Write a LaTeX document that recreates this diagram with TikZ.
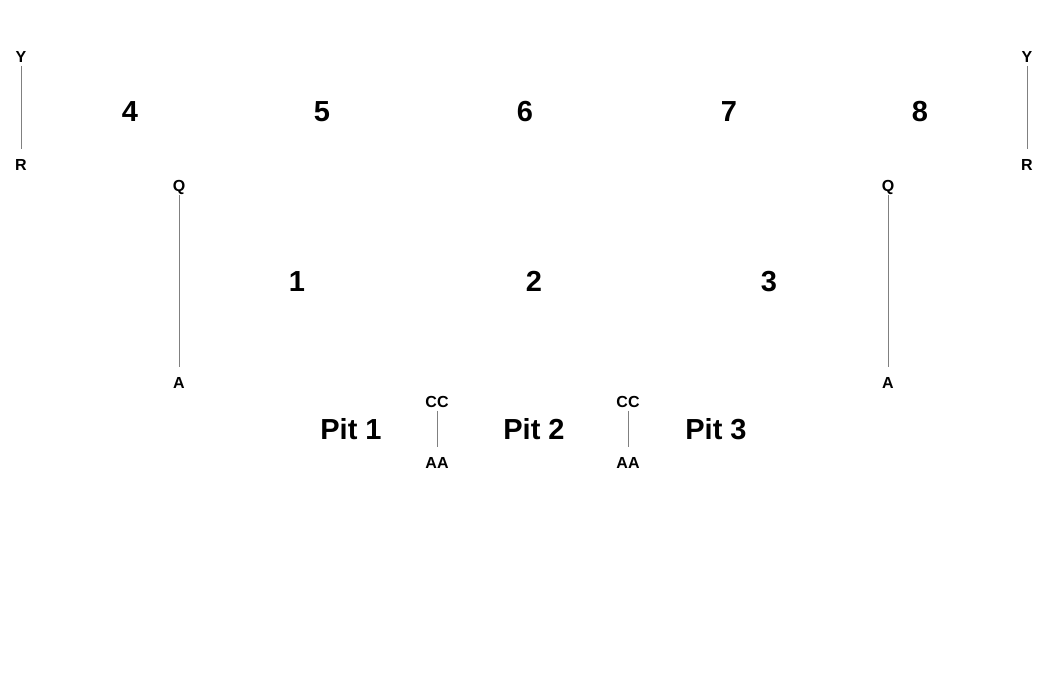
\documentclass[tikz,border=0pt]{standalone}
\usepackage{fontspec}
\setmainfont{Liberation Sans}
\begin{document}
\begin{tikzpicture}[x=1pt,y=-1pt,
  big/.style={font=\fontsize{29}{31}\selectfont\bfseries, inner sep=0pt, text height=21pt, text depth=0pt},
  small/.style={font=\fontsize{16}{18}\selectfont\bfseries, inner sep=3pt, text height=11.5pt, text depth=0pt},
  link/.style={draw=gray, line width=0.8pt, shorten >=7pt}]
\useasboundingbox (0,0) rectangle (1050,678);
\node[small] (Y1) at (21,57) {Y};
\node[small] (R1) at (21,165) {R};
\node[small] (Y2) at (1027,57) {Y};
\node[small] (R2) at (1027,165) {R};
\node[big] (n4) at (130,111) {4};
\node[big] (n5) at (322,111) {5};
\node[big] (n6) at (525,111) {6};
\node[big] (n7) at (729,111) {7};
\node[big] (n8) at (920,111) {8};
\node[small] (Q1) at (179,186) {Q};
\node[small] (A1) at (179,383) {A};
\node[small] (Q2) at (888,186) {Q};
\node[small] (A2) at (888,383) {A};
\node[big] (n1) at (297,281) {1};
\node[big] (n2) at (534,281) {2};
\node[big] (n3) at (769,281) {3};
\node[big] (p1) at (351,429) {Pit 1};
\node[big] (p2) at (534,429) {Pit 2};
\node[big] (p3) at (716,429) {Pit 3};
\node[small] (C1) at (437,402) {CC};
\node[small] (AA1) at (437,463) {AA};
\node[small] (C2) at (628,402) {CC};
\node[small] (AA2) at (628,463) {AA};
\draw[link] (Y1) -- (R1);
\draw[link] (Y2) -- (R2);
\draw[link] (Q1) -- (A1);
\draw[link] (Q2) -- (A2);
\draw[link] (C1) -- (AA1);
\draw[link] (C2) -- (AA2);
\end{tikzpicture}
\end{document}
